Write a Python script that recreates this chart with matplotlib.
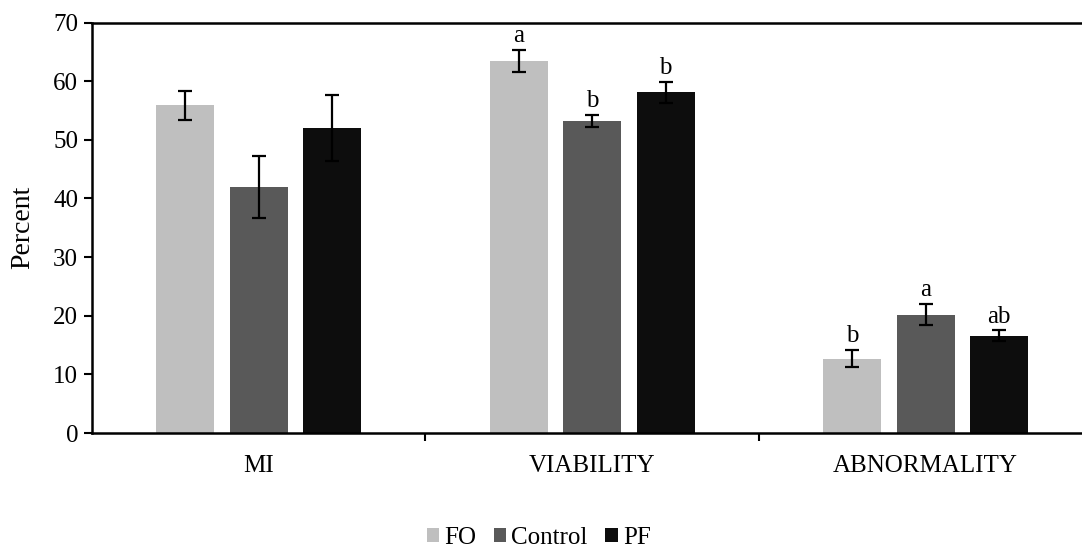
import matplotlib
matplotlib.use("Agg")
import matplotlib.pyplot as plt
import numpy as np

plt.rcParams["font.family"] = ["Liberation Serif", "DejaVu Serif"]

categories = ["MI", "VIABILITY", "ABNORMALITY"]
groups = ["FO", "Control", "PF"]
colors = ["#bfbfbf", "#595959", "#0d0d0d"]

fo_vals = [55.9, 63.4, 12.7]
ctrl_vals = [41.9, 53.2, 20.2]
pf_vals = [52.0, 58.1, 16.6]

fo_err = [2.5, 1.9, 1.5]
ctrl_err = [5.3, 1.1, 1.8]
pf_err = [5.6, 1.8, 0.9]

fo_letters = ["", "a", "b"]
ctrl_letters = ["", "b", "a"]
pf_letters = ["", "b", "ab"]

values = [fo_vals, ctrl_vals, pf_vals]
errors = [fo_err, ctrl_err, pf_err]
letters = [fo_letters, ctrl_letters, pf_letters]

fig = plt.figure(figsize=(10.82, 5.56), dpi=100)
ax = fig.add_axes([0.085, 0.2212, 0.9247, 0.7383])

x = np.arange(len(categories))
step = 0.22
width = 0.174
for i, g in enumerate(groups):
    pos = x + (i - 1) * step
    ax.bar(pos, values[i], width, color=colors[i], label=g, zorder=2)
    ax.errorbar(pos, values[i], yerr=errors[i], fmt="none", ecolor="black",
                elinewidth=1.6, capsize=5, capthick=1.6, zorder=3)
    for p, v, e, t in zip(pos, values[i], errors[i], letters[i]):
        if t:
            ax.annotate(t, (p, v + e), xytext=(0, 2), textcoords="offset points",
                        ha="center", va="bottom", fontsize=18)

ax.set_xlim(-0.5, 2.5)
ax.set_ylim(0, 70)
ax.set_yticks(range(0, 71, 10))
ax.set_xticks(x)
ax.set_xticklabels(categories, fontsize=18)
ax.set_xticks([0.5, 1.5], minor=True)
ax.tick_params(axis="x", which="major", length=0, pad=16)
ax.tick_params(axis="x", which="minor", length=6, width=1.5, direction="out")
ax.tick_params(axis="y", labelsize=18, length=6, width=1.5, direction="out", pad=4)
ax.set_ylabel("Percent", fontsize=20, labelpad=13)

ax.spines["right"].set_visible(False)
for s in ["left", "bottom", "top"]:
    ax.spines[s].set_linewidth(1.8)

fig.legend(loc="lower center", bbox_to_anchor=(0.498, -0.028), ncol=3,
           frameon=False, fontsize=18, handlelength=0.5, handleheight=0.5,
           handletextpad=0.2, columnspacing=0.7)

fig.savefig("out.png", dpi=100)
